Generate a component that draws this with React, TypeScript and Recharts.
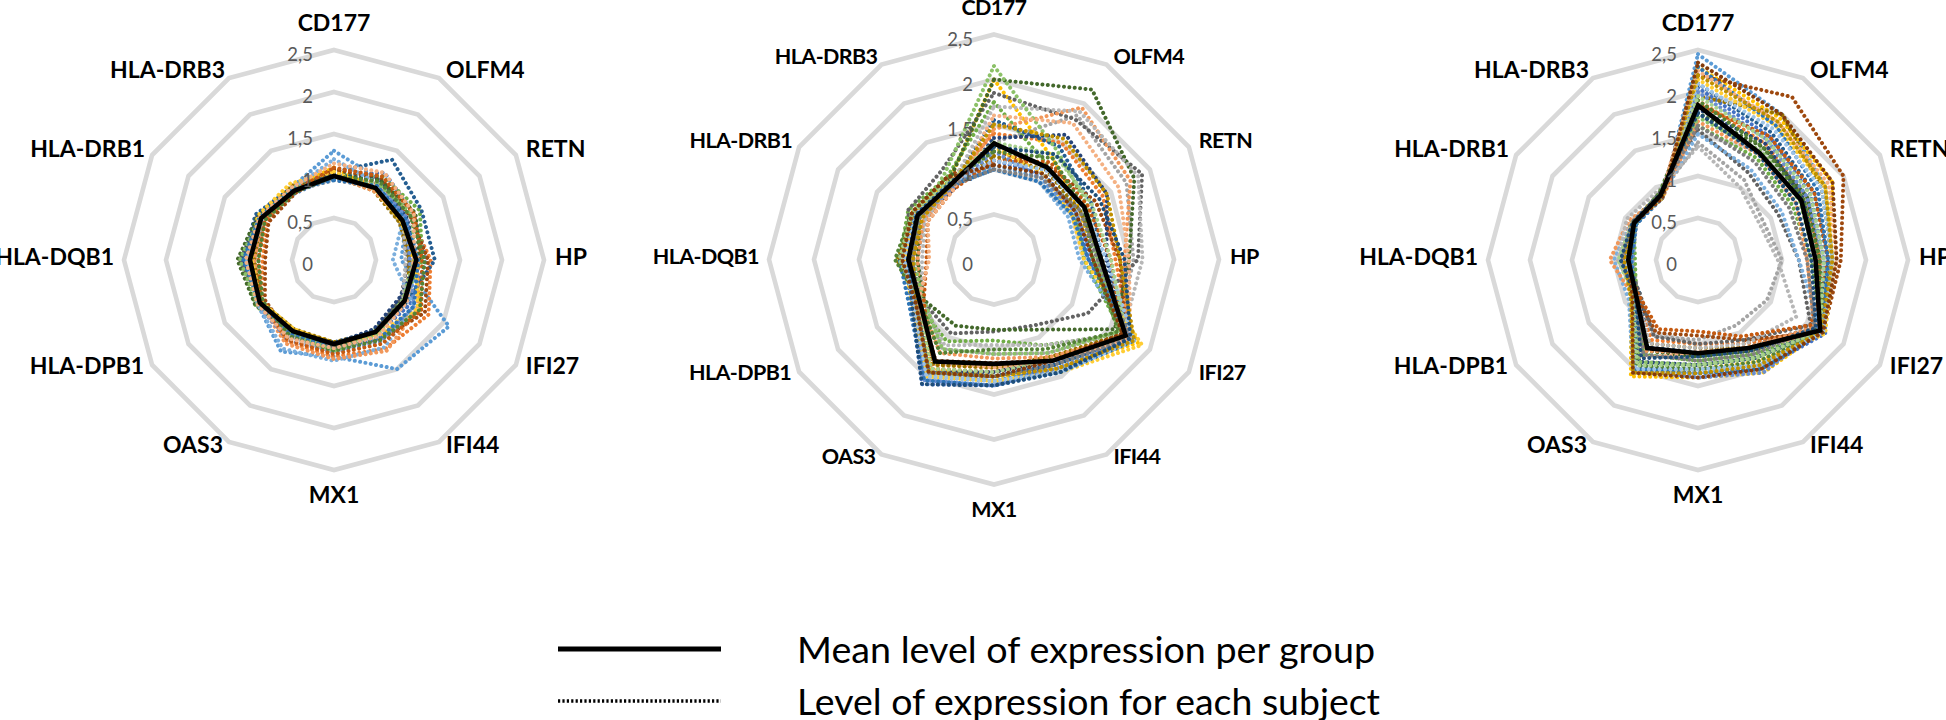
import React from 'react';
import { RadarChart, Radar, PolarGrid, PolarAngleAxis, PolarRadiusAxis } from 'recharts';

// ---------- data ----------
const genes = ['CD177', 'OLFM4', 'RETN', 'HP', 'IFI27', 'IFI44', 'MX1', 'OAS3', 'HLA-DPB1', 'HLA-DQB1', 'HLA-DRB1', 'HLA-DRB3'];
// visible scale runs 0 … 2.5; the radius axis itself spans 0 … 3
const radiusTicks = [0, 0.5, 1, 1.5, 2, 2.5];
const radiusAxisDomain = [0, 3];

const group1Mean = [1.0, 0.99, 0.94, 0.98, 0.97, 0.99, 1.0, 0.98, 1.02, 1.0, 1.0, 0.95];
const group1Subjects = [
  [1.3, 1.1, 1.0, 0.8, 1.58, 1.5, 1.15, 1.26, 1.05, 0.95, 0.98, 1.0],
  [1.05, 1.05, 1.05, 1.15, 1.3, 1.22, 1.15, 1.12, 1.0, 0.85, 0.92, 0.95],
  [0.95, 1.0, 0.9, 0.92, 1.05, 1.0, 1.05, 1.0, 1.0, 1.05, 1.0, 0.95],
  [1.1, 0.98, 0.95, 0.95, 1.2, 1.05, 0.98, 0.96, 1.02, 1.02, 1.05, 1.0],
  [1.0, 1.2, 1.1, 1.1, 1.05, 1.02, 1.0, 0.98, 1.05, 1.0, 1.02, 0.92],
  [1.02, 1.15, 1.18, 1.05, 0.95, 0.96, 1.02, 1.0, 1.08, 1.1, 1.0, 0.98],
  [1.05, 1.38, 1.2, 1.2, 1.0, 0.98, 0.98, 1.02, 1.0, 1.08, 1.08, 1.0],
  [1.08, 1.12, 1.05, 1.12, 1.25, 1.1, 1.05, 1.05, 0.95, 0.82, 0.9, 0.92],
  [0.98, 1.0, 0.92, 0.88, 0.92, 0.98, 1.05, 1.02, 1.0, 1.12, 1.0, 0.95],
  [1.0, 0.95, 0.9, 0.9, 1.0, 0.98, 0.98, 0.95, 1.0, 0.95, 1.0, 1.02],
  [1.02, 1.1, 1.0, 1.0, 0.9, 0.95, 1.0, 1.05, 1.05, 1.1, 1.05, 0.95],
  [1.0, 1.1, 1.12, 1.02, 0.95, 1.0, 1.02, 0.98, 1.08, 1.15, 1.05, 0.98],
  [1.2, 1.05, 0.95, 0.7, 1.1, 1.2, 1.2, 1.22, 1.05, 1.05, 1.0, 0.98],
  [1.0, 0.95, 0.95, 1.0, 1.15, 1.25, 1.18, 1.15, 1.02, 0.95, 0.95, 0.95],
  [0.96, 1.0, 0.95, 0.85, 0.95, 1.05, 1.1, 1.05, 1.0, 1.0, 0.98, 0.98],
  [1.05, 0.98, 0.92, 0.98, 1.15, 1.02, 1.0, 0.95, 1.0, 0.98, 1.05, 1.05],
  [0.98, 1.05, 1.0, 0.9, 1.1, 1.12, 1.1, 1.1, 1.05, 1.0, 1.0, 0.95],
  [0.98, 1.05, 1.08, 0.95, 0.95, 1.02, 1.08, 1.0, 1.05, 1.12, 1.02, 0.98],
  [1.1, 1.15, 1.1, 1.05, 1.2, 1.15, 1.12, 1.1, 1.0, 0.9, 0.95, 0.95],
  [0.95, 1.02, 0.98, 1.0, 1.1, 1.08, 1.05, 1.02, 1.02, 1.08, 1.02, 0.97],
  [1.0, 1.08, 1.05, 1.08, 1.18, 1.1, 1.08, 1.05, 0.98, 0.9, 0.95, 0.93],
  [1.15, 1.2, 1.1, 0.95, 1.0, 1.05, 1.05, 1.08, 1.05, 1.05, 1.02, 1.0],
];

const group2Mean = [1.29, 1.18, 1.16, 1.19, 1.69, 1.3, 1.16, 1.31, 0.95, 0.95, 0.98, 0.96];
const group2Subjects = [
  [1.05, 1.05, 1.0, 1.05, 1.8, 1.4, 1.35, 1.5, 1.0, 0.95, 1.0, 0.95],
  [1.4, 1.5, 1.4, 1.35, 1.75, 1.25, 1.2, 1.35, 0.95, 0.9, 0.95, 1.0],
  [1.3, 1.85, 1.7, 1.55, 1.6, 1.2, 1.05, 1.15, 0.9, 0.85, 0.9, 0.92],
  [2.0, 1.3, 1.1, 1.1, 1.85, 1.4, 1.3, 1.4, 1.0, 1.0, 1.05, 1.0],
  [1.1, 1.1, 1.05, 1.05, 1.7, 1.35, 1.4, 1.6, 1.05, 1.0, 0.98, 0.95],
  [1.75, 1.2, 1.05, 1.0, 1.65, 1.1, 0.9, 1.05, 0.98, 1.05, 1.1, 1.05],
  [1.55, 1.45, 1.25, 1.2, 1.75, 1.35, 1.3, 1.45, 0.98, 0.98, 1.0, 0.95],
  [1.2, 1.2, 1.3, 1.4, 1.7, 1.3, 1.15, 1.3, 0.95, 1.05, 1.05, 1.05],
  [1.85, 1.8, 1.9, 1.6, 1.2, 0.85, 0.8, 0.95, 0.92, 0.92, 1.1, 1.15],
  [1.15, 1.15, 1.1, 1.2, 1.65, 1.25, 1.2, 1.35, 0.95, 1.08, 1.0, 0.95],
  [1.35, 1.6, 1.45, 1.25, 1.75, 1.3, 1.25, 1.45, 1.0, 0.98, 0.95, 0.9],
  [2.0, 2.18, 1.8, 1.5, 1.55, 0.9, 0.78, 0.85, 0.9, 0.85, 0.95, 1.0],
  [1.0, 1.0, 0.95, 0.95, 1.8, 1.45, 1.35, 1.45, 1.0, 1.0, 1.0, 0.95],
  [1.45, 1.95, 1.75, 1.45, 1.7, 1.25, 1.1, 1.2, 0.95, 0.85, 0.9, 0.9],
  [1.7, 1.9, 1.85, 1.65, 1.65, 1.1, 0.95, 1.1, 0.92, 0.8, 0.88, 0.95],
  [1.25, 1.1, 1.0, 1.0, 1.9, 1.45, 1.35, 1.5, 1.05, 1.0, 1.0, 1.0],
  [1.2, 1.05, 1.05, 1.1, 1.75, 1.4, 1.4, 1.55, 1.0, 0.95, 0.95, 0.92],
  [2.15, 1.4, 1.2, 1.15, 1.6, 1.2, 1.05, 1.15, 0.9, 0.9, 0.95, 1.1],
  [1.1, 1.25, 1.2, 1.3, 1.65, 1.3, 1.25, 1.4, 0.9, 0.75, 0.85, 0.9],
  [1.0, 1.0, 1.0, 1.05, 1.8, 1.45, 1.4, 1.55, 1.08, 1.05, 1.0, 0.95],
  [1.2, 1.3, 1.15, 1.1, 1.6, 1.15, 1.0, 1.2, 0.95, 1.1, 1.05, 1.0],
  [1.6, 1.75, 1.6, 1.5, 1.75, 1.3, 1.2, 1.3, 0.98, 0.72, 0.85, 0.9],
  [1.1, 1.15, 1.15, 1.25, 1.8, 1.45, 1.35, 1.5, 1.02, 1.0, 1.0, 0.98],
  [1.3, 1.35, 1.25, 1.3, 1.7, 1.3, 1.25, 1.4, 0.95, 1.05, 1.05, 1.0],
  [1.0, 1.05, 1.1, 1.15, 1.75, 1.35, 1.3, 1.45, 1.0, 0.9, 0.95, 0.95],
  [1.5, 1.55, 1.45, 1.4, 1.8, 1.4, 1.3, 1.45, 1.0, 0.9, 0.92, 0.95],
  [1.25, 1.35, 1.35, 1.45, 1.75, 1.45, 1.4, 1.6, 1.05, 0.95, 1.0, 0.98],
  [1.05, 1.1, 1.05, 1.1, 1.65, 1.3, 1.3, 1.45, 1.0, 1.02, 1.05, 1.05],
];

const group3Mean = [1.84, 1.47, 1.42, 1.4, 1.68, 1.21, 1.11, 1.21, 0.85, 0.83, 0.88, 0.89];
const group3Subjects = [
  [2.45, 2.0, 1.75, 1.6, 1.7, 1.45, 1.35, 1.5, 0.9, 0.85, 0.9, 0.85],
  [1.9, 1.6, 1.5, 1.45, 1.65, 1.15, 1.0, 1.1, 0.85, 0.95, 0.92, 0.88],
  [1.4, 1.1, 0.9, 1.0, 0.95, 0.9, 0.95, 1.05, 0.82, 0.78, 0.85, 0.9],
  [2.3, 1.95, 1.85, 1.55, 1.7, 1.55, 1.4, 1.6, 0.92, 0.85, 0.88, 0.85],
  [2.05, 1.7, 1.55, 1.5, 1.75, 1.5, 1.35, 1.45, 0.85, 0.8, 0.85, 0.9],
  [1.6, 1.4, 1.3, 1.35, 1.7, 1.3, 1.2, 1.3, 0.85, 0.75, 0.88, 0.92],
  [2.1, 1.75, 1.6, 1.55, 1.6, 1.2, 1.1, 1.2, 0.8, 0.9, 0.9, 0.85],
  [2.2, 2.24, 2.0, 1.7, 1.72, 1.1, 0.9, 1.0, 0.85, 0.82, 0.9, 0.88],
  [1.55, 1.2, 1.1, 1.2, 1.55, 1.1, 1.0, 1.05, 0.8, 0.85, 0.88, 0.92],
  [1.95, 2.0, 1.7, 1.6, 1.65, 1.2, 1.05, 1.15, 0.88, 0.88, 0.92, 0.9],
  [1.8, 1.6, 1.45, 1.4, 1.68, 1.35, 1.25, 1.4, 0.9, 0.8, 0.85, 0.88],
  [1.75, 1.55, 1.5, 1.45, 1.65, 1.25, 1.15, 1.25, 0.85, 0.82, 0.88, 0.9],
  [1.5, 1.25, 1.15, 1.2, 1.7, 1.45, 1.35, 1.55, 0.95, 1.0, 0.92, 0.88],
  [1.65, 1.45, 1.35, 1.3, 1.6, 1.2, 1.1, 1.25, 0.88, 1.05, 0.95, 0.85],
  [1.35, 1.0, 0.85, 0.95, 1.35, 1.15, 1.05, 1.15, 0.85, 0.95, 0.98, 0.95],
  [2.15, 1.85, 1.75, 1.6, 1.75, 1.4, 1.3, 1.55, 0.9, 0.85, 0.9, 0.85],
  [2.0, 1.65, 1.5, 1.5, 1.65, 1.55, 1.4, 1.5, 0.9, 0.78, 0.85, 0.88],
  [1.7, 1.5, 1.4, 1.4, 1.7, 1.35, 1.25, 1.4, 0.88, 0.82, 0.85, 0.9],
  [1.85, 1.7, 1.6, 1.55, 1.55, 1.05, 0.85, 0.95, 0.82, 0.88, 0.9, 0.85],
  [2.3, 1.85, 1.65, 1.55, 1.7, 1.5, 1.35, 1.5, 0.85, 0.8, 0.85, 0.85],
  [1.9, 1.55, 1.45, 1.45, 1.72, 1.4, 1.3, 1.45, 0.92, 0.85, 0.88, 0.92],
  [2.25, 1.9, 1.8, 1.65, 1.68, 1.25, 1.1, 1.35, 0.88, 0.9, 0.92, 0.88],
  [2.1, 1.8, 1.7, 1.6, 1.72, 1.45, 1.3, 1.5, 0.9, 0.85, 0.88, 0.85],
  [1.95, 1.65, 1.55, 1.5, 1.68, 1.35, 1.25, 1.45, 0.88, 0.95, 0.9, 0.88],
  [1.6, 1.35, 1.25, 1.3, 1.6, 1.3, 1.2, 1.3, 0.85, 0.9, 0.9, 0.9],
  [2.2, 1.9, 1.75, 1.6, 1.7, 1.45, 1.35, 1.55, 0.92, 0.88, 0.9, 0.86],
  [1.75, 1.45, 1.35, 1.35, 1.62, 1.25, 1.15, 1.35, 0.86, 0.92, 0.9, 0.9],
  [2.35, 2.0, 1.85, 1.65, 1.72, 1.5, 1.4, 1.55, 0.9, 0.82, 0.88, 0.85],
];

const subjectColors = [
  '#5B9BD5', '#ED7D31', '#A5A5A5', '#FFC000', '#4472C4', '#70AD47',
  '#255E91', '#9E480E', '#636363', '#997300', '#264478', '#43682B',
  '#7CAFDD', '#F1975A', '#B7B7B7', '#FFCD33', '#698ED0', '#8CC168',
  '#C55A11', '#2E75B6', '#548235', '#F4B183', '#9DC3E6', '#A9D18E',
  '#7F7F7F', '#BF9000', '#1F4E79', '#843C0C',
];

const legendLabels = ['Mean level of expression per group', 'Level of expression for each subject'];

// ---------- helpers ----------
type Row = Record<string, string | number>;

function buildRows(mean: number[], subjects: number[][]): Row[] {
  return genes.map((g, i) => {
    const row: Row = { gene: g, mean: mean[i] };
    subjects.forEach((s, j) => {
      row['s' + j] = s[i];
    });
    return row;
  });
}

const FONT = 'Lato, "Open Sans", sans-serif';
const LABEL_DX = [0, 7, 10, 11, 10, 7, 0, -6, -8, -10, -7, -4];
const LABEL_DY = [-28, -9, -7, -4, 0, 2, 24, 2, 0, -4, -7, -9];

// r = radius of the outer (2,5) ring
function makeAngleTick(cx: number, cy: number, r: number, fontSize: number, spacing: number) {
  return (props: any) => {
    const i: number = props.index;
    const a = (i * 2 * Math.PI) / genes.length;
    const vx = cx + r * Math.sin(a);
    const vy = cy - r * Math.cos(a);
    const anchor = i === 0 || i === genes.length / 2 ? 'middle' : i < genes.length / 2 ? 'start' : 'end';
    return (
      <text
        x={vx + LABEL_DX[i]}
        y={vy + LABEL_DY[i]}
        textAnchor={anchor}
        dominantBaseline="central"
        fontFamily={FONT}
        fontWeight={700}
        fontSize={fontSize}
        letterSpacing={spacing}
        fill="#000"
      >
        {props.payload.value}
      </text>
    );
  };
}

function radiusTick(props: any) {
  const v = props.payload.value as number;
  return (
    <text
      x={props.x - 21}
      y={props.y + 4}
      textAnchor="end"
      dominantBaseline="central"
      fontFamily={FONT}
      fontSize={18.5}
      fill="#595959"
    >
      {String(v).replace('.', ',')}
    </text>
  );
}

type PanelProps = {
  left: number;
  width: number;
  cx: number;
  cy: number;
  r: number;
  mean: number[];
  subjects: number[][];
  fontSize: number;
  spacing: number;
};

function Panel({ left, width, cx, cy, r, mean, subjects, fontSize, spacing }: PanelProps) {
  const rows = buildRows(mean, subjects);
  const lastTick = radiusTicks[radiusTicks.length - 1];
  const axisRadius = (r * radiusAxisDomain[1]) / lastTick;
  return (
    <div style={{ position: 'absolute', left, top: 0, width, height: 560 }}>
      <RadarChart
        width={width}
        height={560}
        data={rows}
        cx={cx}
        cy={cy}
        outerRadius={axisRadius}
        margin={{ top: 0, right: 0, bottom: 0, left: 0 }}
      >
        <PolarGrid gridType="polygon" radialLines={false} stroke="#D9D9D9" strokeWidth={4.6} />
        <PolarAngleAxis
          dataKey="gene"
          tick={makeAngleTick(cx, cy, r, fontSize, spacing)}
          tickLine={false}
          axisLine={false}
        />
        <PolarRadiusAxis
          angle={90}
          type="number"
          domain={radiusAxisDomain as [number, number]}
          ticks={radiusTicks as any}
          tickCount={radiusTicks.length}
          allowDataOverflow
          axisLine={false}
          tickLine={false}
          tick={radiusTick}
        />
        {subjects.map((_, j) => (
          <Radar
            key={'s' + j}
            dataKey={'s' + j}
            stroke={subjectColors[j % subjectColors.length]}
            strokeWidth={4}
            strokeDasharray="0.01 5.4"
            strokeLinecap="round"
            fill="none"
            fillOpacity={0}
            dot={false}
            isAnimationActive={false}
          />
        ))}
        <Radar
          dataKey="mean"
          stroke="#000000"
          strokeWidth={4.6}
          fill="none"
          fillOpacity={0}
          dot={false}
          isAnimationActive={false}
        />
      </RadarChart>
    </div>
  );
}

function LegendBlock() {
  return (
    <svg width={1946} height={120} style={{ position: 'absolute', left: 0, top: 600 }}>
      <line x1={558} x2={721} y1={49} y2={49} stroke="#000" strokeWidth={5} />
      <text
        x={797}
        y={49}
        dominantBaseline="central"
        fontFamily={FONT}
        fontSize={36}
        fill="#000"
        textLength={578}
        lengthAdjust="spacingAndGlyphs"
      >
        {legendLabels[0]}
      </text>
      <line x1={558} x2={721} y1={101} y2={101} stroke="#000" strokeWidth={3.5} strokeDasharray="2.2 2.2" />
      <text
        x={797}
        y={101}
        dominantBaseline="central"
        fontFamily={FONT}
        fontSize={36}
        fill="#000"
        textLength={583}
        lengthAdjust="spacingAndGlyphs"
      >
        {legendLabels[1]}
      </text>
    </svg>
  );
}

export default function App() {
  return (
    <div
      style={{
        position: 'absolute',
        left: 0,
        top: 0,
        width: 1946,
        height: 720,
        background: '#fff',
        overflow: 'hidden',
      }}
    >
      <Panel left={0} width={640} cx={334} cy={260} r={210} mean={group1Mean} subjects={group1Subjects} fontSize={23} spacing={0} />
      <Panel left={640} width={690} cx={354} cy={259.5} r={225} mean={group2Mean} subjects={group2Subjects} fontSize={21.5} spacing={-0.6} />
      <Panel left={1330} width={616} cx={368} cy={260} r={210} mean={group3Mean} subjects={group3Subjects} fontSize={23} spacing={0} />
      <LegendBlock />
    </div>
  );
}
